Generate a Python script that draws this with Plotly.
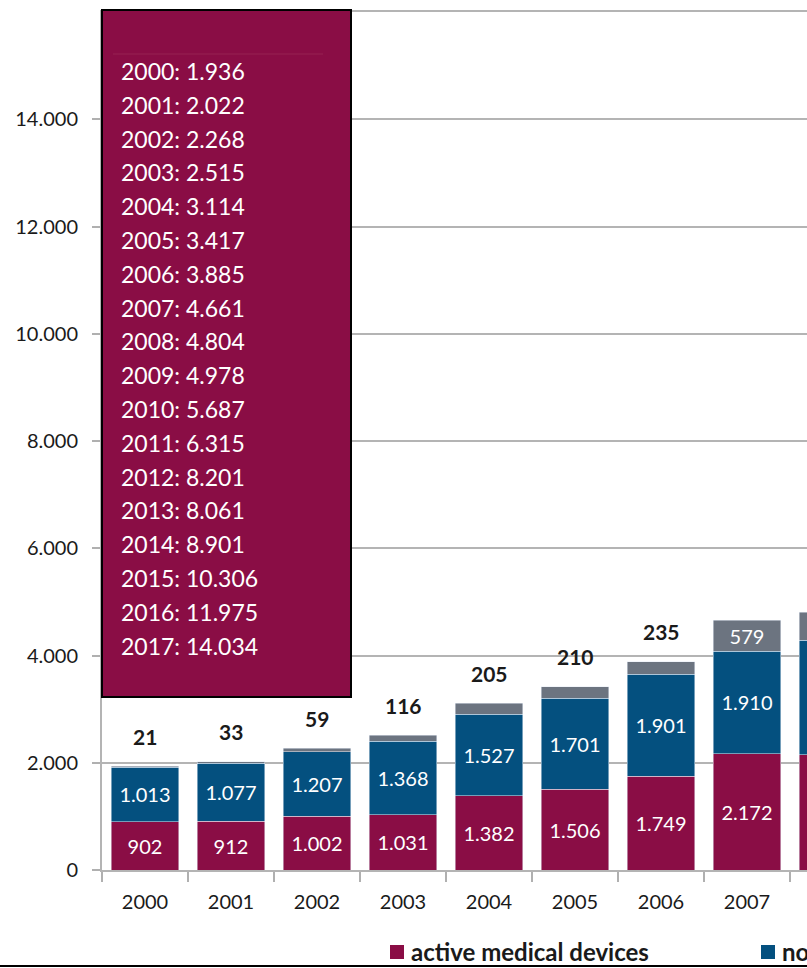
import plotly.graph_objects as go

# ---------------- data ----------------
years = ["2000", "2001", "2002", "2003", "2004", "2005", "2006", "2007", "2008"]
active = [902, 912, 1002, 1031, 1382, 1506, 1749, 2172, 2150]
non_active = [1013, 1077, 1207, 1368, 1527, 1701, 1901, 1910, 2130]
other = [21, 33, 59, 116, 205, 210, 235, 579, 524]

total_years = ["2000", "2001", "2002", "2003", "2004", "2005", "2006", "2007", "2008",
               "2009", "2010", "2011", "2012", "2013", "2014", "2015", "2016", "2017"]
totals = ["1.936", "2.022", "2.268", "2.515", "3.114", "3.417", "3.885", "4.661", "4.804",
          "4.978", "5.687", "6.315", "8.201", "8.061", "8.901", "10.306", "11.975", "14.034"]

series_names = ["active medical devices", "non-active medical devices", "in-vitro diagnostics"]
y_ticks = [0, 2000, 4000, 6000, 8000, 10000, 12000, 14000]

# ---------------- styling ----------------
W, H = 807, 968
L, R, T, B = 102, 0, 12, 98
PW, PH = W - L - R, H - T - B
MAGENTA = "#8a0d45"
BLUE = "#04507f"
GRAY = "#6c7480"
FONT = "Lato"
TXT = "#1a1a1a"


def px_x(px):
    return (px - L) / PW


def px_y(py):
    return (H - B - py) / PH


def fmt(v):
    return f"{v:,}".replace(",", ".")


inside_top = [i >= 7 for i in range(len(years))]

fig = go.Figure()
fig.add_bar(x=years, y=active, name=series_names[0], marker_color=MAGENTA,
            texttemplate="%{y:,}", textposition="inside", insidetextanchor="middle",
            textfont=dict(family=FONT, size=20, color="white"), textangle=0,
            constraintext="none", showlegend=False)
fig.add_bar(x=years, y=non_active, name=series_names[1], marker_color=BLUE,
            texttemplate="%{y:,}", textposition="inside", insidetextanchor="middle",
            textfont=dict(family=FONT, size=20, color="white"), textangle=0,
            constraintext="none", showlegend=False)
fig.add_bar(x=years, y=other, name=series_names[2], marker_color=GRAY,
            text=[fmt(v) if ins else "" for v, ins in zip(other, inside_top)],
            textposition="inside", insidetextanchor="middle",
            textfont=dict(family=FONT, size=20, color="white"), textangle=0,
            constraintext="none", showlegend=False)

annotations = []
# labels of the small top segments, above the bars (x given as category index)
for i, (a, n, o) in enumerate(zip(active, non_active, other)):
    if not inside_top[i]:
        annotations.append(dict(x=i, y=a + n + o, xref="x", yref="y", text=fmt(o),
                                showarrow=False, yshift=30, yanchor="middle",
                                font=dict(family=FONT, size=21, color=TXT, weight="bold")))

# tooltip-like box listing totals
shapes = [
    dict(type="rect", xref="paper", yref="paper", x0=px_x(102), x1=px_x(351),
         y0=px_y(697), y1=px_y(10), fillcolor=MAGENTA, line=dict(color="black", width=2),
         layer="above"),
    dict(type="line", xref="paper", yref="paper", x0=px_x(113), x1=px_x(323),
         y0=px_y(54), y1=px_y(54), line=dict(color="#962253", width=1), layer="above"),
]
for k, (yr, tv) in enumerate(zip(total_years, totals)):
    annotations.append(dict(x=px_x(119), y=px_y(71 + k * 33.8), xref="paper", yref="paper",
                            text=f"{yr}: {tv}", showarrow=False, xanchor="left",
                            yanchor="middle",
                            font=dict(family=FONT, size=23, color="white")))

# legend drawn at the bottom
legend_items = [(series_names[0], MAGENTA, 390), (series_names[1], BLUE, 761)]
for name, col, x0 in legend_items:
    shapes.append(dict(type="rect", xref="paper", yref="paper", x0=px_x(x0), x1=px_x(x0 + 14),
                       y0=px_y(959), y1=px_y(945), fillcolor=col, line=dict(width=0)))
    annotations.append(dict(x=px_x(x0 + 19), y=px_y(951), xref="paper", yref="paper",
                            text=name, showarrow=False, xanchor="left", yanchor="middle",
                            font=dict(family=FONT, size=24, color=TXT, weight="bold")))

# bottom border line
shapes.append(dict(type="line", xref="paper", yref="paper", x0=px_x(0), x1=px_x(W),
                   y0=px_y(966), y1=px_y(966), line=dict(color="black", width=2)))

fig.update_layout(
    width=W, height=H, margin=dict(l=L, r=R, t=T, b=B, pad=0),
    barmode="stack", bargap=0.22,
    plot_bgcolor="white", paper_bgcolor="white",
    separators=",.",
    font=dict(family=FONT, size=20, color=TXT),
    shapes=shapes, annotations=annotations,
    xaxis=dict(type="category", range=[-0.5, -0.5 + PW / 86.0], tickson="boundaries",
               ticks="outside", ticklen=10, tickwidth=2, tickcolor="#b0b0b0",
               showline=True, linecolor="#b4b4b4", linewidth=2, mirror=True,
               showgrid=False, ticklabelstandoff=13,
               tickfont=dict(family=FONT, size=20, color=TXT)),
    yaxis=dict(range=[0, 16000], tickvals=y_ticks, tickformat=",d",
               ticks="outside", ticklen=8, tickwidth=2, tickcolor="#b0b0b0",
               showline=True, linecolor="#b4b4b4", linewidth=2,
               showgrid=True, gridcolor="#b4b4b4", gridwidth=2, zeroline=False,
               ticklabelstandoff=10,
               tickfont=dict(family=FONT, size=20, color=TXT)),
)

fig.write_html("out.html")
